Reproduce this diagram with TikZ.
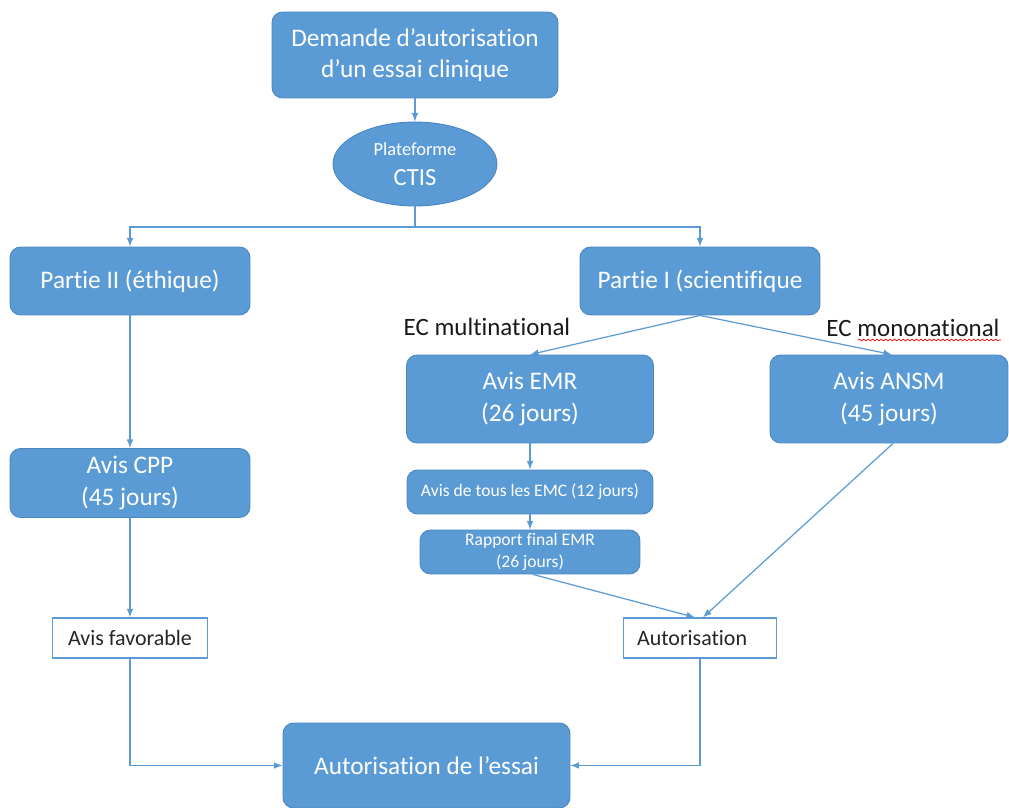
\documentclass[tikz,border=0pt]{standalone}
\usepackage{fontspec}
\setmainfont{Carlito}[Ligatures=NoCommon]
\usepackage{tikz}
\usetikzlibrary{shapes.geometric,decorations.pathmorphing}
\definecolor{boxblue}{HTML}{5B9BD5}
\definecolor{boxedge}{HTML}{4A86C0}

\begin{document}
\begin{tikzpicture}[x=0.02cm, y=-0.02cm,
    bloc/.style={draw=boxedge, fill=boxblue, rounded corners=6pt, text=white, align=center, inner sep=0pt, line width=0.5pt, font=\fontsize{14.4}{17.8}\selectfont},
    petit/.style={bloc, font=\fontsize{10}{12.5}\selectfont},
    cadre/.style={draw=boxblue, fill=white, text=black!85, inner sep=0pt, line width=0.7pt, font=\fontsize{12.5}{15}\selectfont},
    lien/.style={draw=boxblue, line width=0.7pt, -latex},
    etiq/.style={text=black!90, font=\fontsize{14.2}{17}\selectfont}]
    \useasboundingbox (0,0) rectangle (1009,808);

    % top
    \node[bloc, minimum width=5.72cm, minimum height=1.72cm] (demande) at (415,55) {Demande d'autorisation\\d'un essai clinique};
    \node[ellipse, draw=boxedge, fill=boxblue, text=white, align=center, inner sep=0pt, line width=0.5pt, minimum width=3.28cm, minimum height=1.68cm] (ctis) at (415,164) {{\fontsize{10.5}{13}\selectfont Plateforme}\\[5pt]{\fontsize{14}{17}\selectfont CTIS}};
    \coordinate (split) at (415,227);

    % two parts
    \node[bloc, minimum width=4.8cm, minimum height=1.36cm] (partieII) at (130,281) {Partie II (éthique)};
    \node[bloc, minimum width=4.8cm, minimum height=1.36cm] (partieI) at (700,281) {Partie I (scientifique};

    % left side
    \node[bloc, minimum width=4.8cm, minimum height=1.38cm] (cpp) at (130,483) {Avis CPP\\(45 jours)};
    \node[cadre, minimum width=3.1cm, minimum height=0.8cm] (favorable) at (130,638) {Avis favorable};

    % right side
    \node[etiq] (multi) at (487,327) {EC multinational};
    \node[etiq] (mono) at (913,328) {EC mononational};
    \draw[red, line width=0.4pt, decorate, decoration={snake, amplitude=0.5pt, segment length=2.5pt}] (858,340) -- (1001,340);
    \node[bloc, minimum width=4.94cm, minimum height=1.76cm] (emr) at (530,399) {Avis EMR\\(26 jours)};
    \node[bloc, minimum width=4.76cm, minimum height=1.76cm] (ansm) at (889,399) {Avis ANSM\\(45 jours)};
    \node[petit, minimum width=4.92cm, minimum height=0.88cm] (emc) at (530,492) {Avis de tous les EMC (12 jours)};
    \node[petit, minimum width=4.4cm, minimum height=0.88cm] (rapport) at (530,552) {Rapport final EMR\\(26 jours)};
    \node[cadre, minimum width=3.06cm, minimum height=0.8cm] (autorisation) at (700,638) {Autorisation\kern 9pt};

    % bottom
    \node[bloc, minimum width=5.74cm, minimum height=1.7cm] (essai) at (426.5,765.5) {Autorisation de l'essai};

    % arrows
    \draw[lien] (demande) -- (ctis);
    \draw[draw=boxblue, line width=0.7pt] (ctis) -- (split);
    \draw[lien] (split) -| (partieII);
    \draw[lien] (split) -| (partieI);
    \draw[lien] (partieII) -- (cpp);
    \draw[lien] (cpp) -- (favorable);
    \draw[lien] (partieI.south) -- (emr.north);
    \draw[lien] (partieI.south) -- ([xshift=0.06cm]ansm.north);
    \draw[lien] (emr) -- (emc);
    \draw[lien] (emc) -- (rapport);
    \draw[lien] ([xshift=0.06cm]rapport.south) -- ([xshift=-0.1cm]autorisation.north);
    \draw[lien] ([xshift=0.08cm]ansm.south) -- ([xshift=0.06cm]autorisation.north);
    \draw[lien] (favorable) |- (essai);
    \draw[lien] (autorisation) |- (essai);
\end{tikzpicture}
\end{document}
